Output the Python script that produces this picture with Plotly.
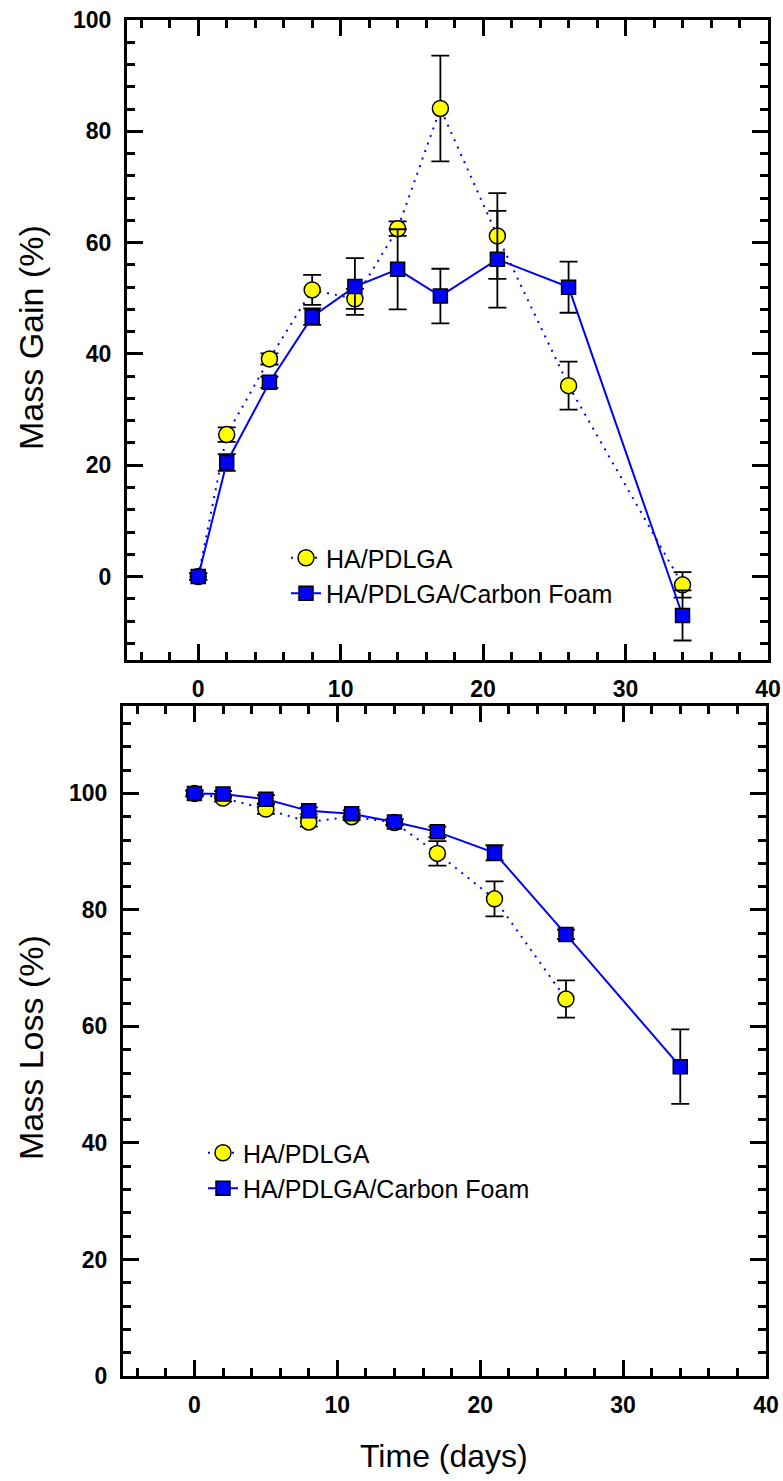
import plotly.graph_objects as go

# ---------------- data ----------------
days = [0, 2, 5, 8, 11, 14, 17, 21, 26, 34]

gain_ha = [0, 25.5, 39.1, 51.5, 49.9, 62.5, 84.1, 61.2, 34.3, -1.5]
gain_ha_err = [0.6, 1.3, 1.0, 2.7, 1.8, 1.3, 9.5, 7.7, 4.3, 2.3]
gain_cf = [0, 20.5, 34.9, 46.7, 52.1, 55.2, 50.4, 57.0, 52.0, -7.0]
gain_cf_err = [0.6, 1.5, 1.0, 1.5, 5.1, 7.2, 4.9, 8.7, 4.6, 4.5]

loss_days_ha = [0, 2, 5, 8, 11, 14, 17, 21, 26]
loss_ha = [100, 99.2, 97.3, 95.1, 96.0, 95.0, 89.7, 81.9, 64.7]
loss_ha_err = [0.5, 0.6, 0.8, 0.8, 0.6, 0.5, 2.1, 3.0, 3.2]
loss_cf = [100, 99.9, 99.0, 97.0, 96.5, 95.1, 93.4, 89.8, 75.8, 53.1]
loss_cf_err = [0.5, 0.5, 0.7, 0.6, 0.6, 0.5, 0.9, 1.3, 0.8, 6.4]

series_names = ["HA/PDLGA", "HA/PDLGA/Carbon Foam"]
x_ticks = [0, 10, 20, 30, 40]
y_ticks = [0, 20, 40, 60, 80, 100]

FONT = "Liberation Sans, Arial, Helvetica, sans-serif"
W, H = 783, 1481

ha_marker = dict(symbol="circle", size=16, color="#FFFF00", line=dict(color="black", width=1.5))
cf_marker = dict(symbol="square", size=14, color="#0000FF", line=dict(color="black", width=1.5))
ha_line = dict(color="#0000FF", width=2, dash="2px,6px")
cf_line = dict(color="#0000FF", width=2)


def err(vals):
    return dict(type="data", array=vals, visible=True, color="black", thickness=1.8, width=9)


fig = go.Figure()
fig.add_trace(go.Scatter(x=days, y=gain_ha, mode="lines+markers", name=series_names[0],
                         marker=ha_marker, line=ha_line, error_y=err(gain_ha_err),
                         xaxis="x", yaxis="y", legend="legend"))
fig.add_trace(go.Scatter(x=days, y=gain_cf, mode="lines+markers", name=series_names[1],
                         marker=cf_marker, line=cf_line, error_y=err(gain_cf_err),
                         xaxis="x", yaxis="y", legend="legend"))
fig.add_trace(go.Scatter(x=loss_days_ha, y=loss_ha, mode="lines+markers", name=series_names[0],
                         marker=ha_marker, line=ha_line, error_y=err(loss_ha_err),
                         xaxis="x2", yaxis="y2", legend="legend2"))
fig.add_trace(go.Scatter(x=days, y=loss_cf, mode="lines+markers", name=series_names[1],
                         marker=cf_marker, line=cf_line, error_y=err(loss_cf_err),
                         xaxis="x2", yaxis="y2", legend="legend2"))


def xax(domain, anchor):
    return dict(domain=domain, anchor=anchor, range=[-5, 40], tickvals=x_ticks,
                ticks="inside", ticklen=16, tickwidth=2.5, tickcolor="black",
                showline=True, linewidth=3, linecolor="black", mirror="ticks",
                showgrid=False, zeroline=False, ticklabelstandoff=6,
                tickfont=dict(family=FONT, size=23, color="black", weight="bold"),
                minor=dict(dtick=2, tick0=0, ticks="inside", ticklen=8, tickwidth=2.5,
                           tickcolor="black", showgrid=False))


def yax(domain, anchor, rng):
    return dict(domain=domain, anchor=anchor, range=rng, tickvals=y_ticks,
                ticks="inside", ticklen=16, tickwidth=2.5, tickcolor="black",
                showline=True, linewidth=3, linecolor="black", mirror="ticks",
                showgrid=False, zeroline=False, ticklabelstandoff=8,
                tickfont=dict(family=FONT, size=23, color="black", weight="bold"),
                minor=dict(dtick=4, tick0=0, ticks="inside", ticklen=8, tickwidth=2.5,
                           tickcolor="black", showgrid=False))


fig.update_layout(
    width=W, height=H,
    margin=dict(l=0, r=0, t=0, b=0, autoexpand=False),
    paper_bgcolor="white", plot_bgcolor="white",
    xaxis=xax([127 / W, 768 / W], "y"),
    yaxis=yax([1 - 660 / H, 1 - 20 / H], "x", [-15, 100]),
    xaxis2=xax([123 / W, 766 / W], "y2"),
    yaxis2=yax([1 - 1376 / H, 1 - 706 / H], "x2", [0, 115]),
    legend=dict(x=(328 - 42) / W, y=1 - 535 / H, xanchor="left", yanchor="top",
                bgcolor="rgba(0,0,0,0)", font=dict(family=FONT, size=25, color="black"),
                tracegroupgap=0),
    legend2=dict(x=(245 - 42) / W, y=1 - 1130 / H, xanchor="left", yanchor="top",
                 bgcolor="rgba(0,0,0,0)", font=dict(family=FONT, size=25, color="black"),
                 tracegroupgap=0),
    annotations=[
        dict(text="Mass Gain (%)", x=31 / W, y=1 - 338 / H, xref="paper", yref="paper",
             xanchor="center", yanchor="middle",
             textangle=-90, showarrow=False, font=dict(family=FONT, size=34, color="black")),
        dict(text="Mass Loss (%)", x=31 / W, y=1 - 1048 / H, xref="paper", yref="paper",
             xanchor="center", yanchor="middle",
             textangle=-90, showarrow=False, font=dict(family=FONT, size=34, color="black")),
        dict(text="Time (days)", x=444 / W, y=1 - 1456 / H, xref="paper", yref="paper",
             xanchor="center", yanchor="middle",
             showarrow=False, font=dict(family=FONT, size=32, color="black")),
    ],
)

fig.write_html("out.html", post_script="document.body.style.margin='0px';",
               config={"displayModeBar": False})
